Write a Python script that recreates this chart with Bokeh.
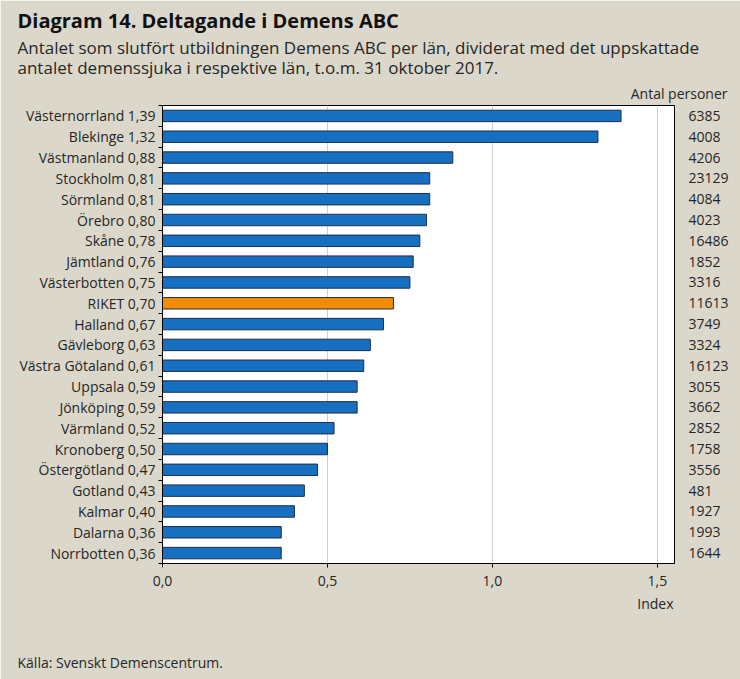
from bokeh.plotting import figure
from bokeh.models import Range1d, FixedTicker, LinearAxis, Title, ColumnDataSource, CustomJSTickFormatter
from bokeh.embed import file_html
from bokeh.resources import INLINE

regions = ["Västernorrland", "Blekinge", "Västmanland", "Stockholm", "Sörmland", "Örebro",
           "Skåne", "Jämtland", "Västerbotten", "RIKET", "Halland", "Gävleborg",
           "Västra Götaland", "Uppsala", "Jönköping", "Värmland", "Kronoberg",
           "Östergötland", "Gotland", "Kalmar", "Dalarna", "Norrbotten"]
index_values = [1.39, 1.32, 0.88, 0.81, 0.81, 0.80, 0.78, 0.76, 0.75, 0.70, 0.67, 0.63,
                0.61, 0.59, 0.59, 0.52, 0.50, 0.47, 0.43, 0.40, 0.36, 0.36]
persons = [6385, 4008, 4206, 23129, 4084, 4023, 16486, 1852, 3316, 11613, 3749, 3324,
           16123, 3055, 3662, 2852, 1758, 3556, 481, 1927, 1993, 1644]
x_ticks = [0.0, 0.5, 1.0, 1.5]

TITLE = "Diagram 14. Deltagande i Demens ABC"
SUBTITLE = ("Antalet som slutfört utbildningen Demens ABC per län, dividerat med det uppskattade\n"
            "antalet demenssjuka i respektive län, t.o.m. 31 oktober 2017.")
SOURCE = "Källa: Svenskt Demenscentrum."

BG = "#dbd8cb"
BLUE = "#176fc1"
ORANGE = "#f28c00"
OUTLINE = "#1f2f45"
TXT = "#262626"
FONT = "Open Sans"

n = len(regions)
pos = list(range(n))
colors = [ORANGE if r == "RIKET" else BLUE for r in regions]
left_labels = {i: f"{regions[i]} {index_values[i]:.2f}".replace(".", ",") for i in pos}
right_labels = {i: str(persons[i]) for i in pos}

XMAX = 1.552
src = ColumnDataSource(dict(pos=pos, value=index_values, color=colors))

p = figure(width=740, height=679, output_backend="svg", toolbar_location=None,
           x_range=Range1d(0, XMAX), y_range=Range1d(n - 0.5, -0.5),
           min_border_left=162, min_border_right=66, min_border_top=105, min_border_bottom=116,
           background_fill_color="white", border_fill_color=BG,
           outline_line_color="black", outline_line_width=1)

p.hbar(y="pos", left=0, right="value", height=0.55, fill_color="color",
       line_color=OUTLINE, line_width=1, source=src)

# x axis
xa = p.xaxis[0]
xa.ticker = FixedTicker(ticks=x_ticks)
xa.formatter = CustomJSTickFormatter(code="return tick.toFixed(1).replace('.', ',')")
xa.major_tick_out = 4
xa.major_tick_in = 0
xa.minor_tick_out = 0
xa.minor_tick_in = 0
xa.major_label_standoff = 8
xa.axis_line_color = "black"
xa.major_tick_line_color = "black"
xa.major_label_text_font = FONT
xa.major_label_text_font_size = "14px"
xa.major_label_text_color = TXT

p.xgrid.ticker = FixedTicker(ticks=x_ticks)
p.xgrid.grid_line_color = "#d0d0d0"
p.ygrid.visible = False

# left y axis
ya = p.yaxis[0]
ya.ticker = FixedTicker(ticks=pos, minor_ticks=[i - 0.5 for i in range(n + 1)])
ya.major_label_overrides = left_labels
ya.major_tick_out = 0
ya.major_tick_in = 0
ya.minor_tick_out = 4
ya.minor_tick_in = 0
ya.minor_tick_line_color = "black"
ya.axis_line_color = "black"
ya.major_label_standoff = 3
ya.major_label_text_font = FONT
ya.major_label_text_font_size = "14px"
ya.major_label_text_color = TXT

# right axis with counts
ra = LinearAxis(ticker=FixedTicker(ticks=pos), major_label_overrides=right_labels,
                major_tick_out=0, major_tick_in=0, minor_tick_out=0, minor_tick_in=0,
                axis_line_color=None, major_label_standoff=14,
                major_label_text_font=FONT, major_label_text_font_size="14px",
                major_label_text_color=TXT)
p.add_layout(ra, "right")

def ttl(text, where, size, align="left", offset=-145, standoff=0, bold=False, lh=1.2):
    p.add_layout(Title(text=text, text_font=FONT, text_font_size=size,
                       text_color="#111111" if bold else TXT,
                       text_font_style="bold" if bold else "normal",
                       text_line_height=lh,
                       align=align, offset=offset, standoff=standoff), where)

ttl("Antal personer", "above", "14px", align="right", offset=-53, standoff=5)
ttl(SUBTITLE, "above", "17px", standoff=1, lh=0.864)
ttl(TITLE, "above", "20px", standoff=0, bold=True)
ttl("Index", "below", "14px", align="right", offset=1, standoff=7)
ttl(" ", "below", "14px", standoff=7)
ttl(SOURCE, "below", "14px", standoff=13)

open("out.html", "w").write(file_html(p, INLINE))
